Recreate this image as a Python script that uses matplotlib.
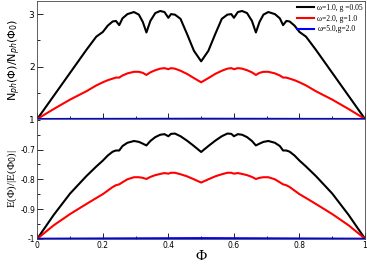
import numpy as np
import matplotlib
matplotlib.use("Agg")
import matplotlib.pyplot as plt
from matplotlib.ticker import MultipleLocator

# flux values (same grid for the black and red curves)
phi = [0.0, 0.05, 0.1, 0.15, 0.18, 0.2, 0.215, 0.23, 0.24, 0.25, 0.26, 0.275, 0.295,
       0.31, 0.322, 0.333, 0.345, 0.36, 0.375, 0.388, 0.4, 0.408, 0.42, 0.437, 0.457,
       0.478, 0.5, 0.522, 0.543, 0.563, 0.58, 0.592, 0.6, 0.612, 0.625, 0.64, 0.655,
       0.667, 0.678, 0.69, 0.705, 0.725, 0.74, 0.75, 0.76, 0.77, 0.785, 0.8, 0.82,
       0.85, 0.9, 0.95, 1.0]

# photon number ratio
nph_w1 = [1.00, 1.44, 1.88, 2.32, 2.57, 2.66, 2.78, 2.86, 2.87, 2.79, 2.92, 3.00, 3.04,
          2.99, 2.85, 2.65, 2.87, 3.02, 3.06, 3.04, 2.93, 3.00, 2.99, 2.91, 2.62,
          2.30, 2.10, 2.30, 2.62, 2.91, 2.99, 3.00, 2.93, 3.04, 3.06, 3.02, 2.87,
          2.65, 2.85, 2.99, 3.04, 3.00, 2.92, 2.79, 2.87, 2.86, 2.78, 2.66, 2.57,
          2.32, 1.88, 1.44, 1.00]
nph_w2 = [1.00, 1.19, 1.37, 1.53, 1.64, 1.70, 1.74, 1.77, 1.79, 1.79, 1.83, 1.87, 1.90,
          1.90, 1.88, 1.84, 1.89, 1.93, 1.96, 1.97, 1.95, 1.97, 1.96, 1.92, 1.86,
          1.78, 1.70, 1.78, 1.86, 1.92, 1.96, 1.97, 1.95, 1.97, 1.96, 1.93, 1.89,
          1.84, 1.88, 1.90, 1.90, 1.87, 1.83, 1.79, 1.79, 1.77, 1.74, 1.70, 1.64,
          1.53, 1.37, 1.19, 1.00]

# ground state energy ratio
e_w1 = [-1.000, -0.920, -0.848, -0.789, -0.757, -0.737, -0.720, -0.707, -0.703, -0.703,
        -0.688, -0.677, -0.671, -0.674, -0.680, -0.686, -0.671, -0.658, -0.650, -0.648,
        -0.655, -0.647, -0.646, -0.655, -0.670, -0.688, -0.708, -0.688, -0.670, -0.655,
        -0.646, -0.647, -0.655, -0.648, -0.650, -0.658, -0.671, -0.686, -0.680, -0.674,
        -0.671, -0.677, -0.688, -0.703, -0.703, -0.707, -0.720, -0.737, -0.757, -0.789,
        -0.848, -0.920, -1.000]
e_w2 = [-1.000, -0.955, -0.917, -0.883, -0.863, -0.850, -0.838, -0.826, -0.820, -0.817,
        -0.810, -0.800, -0.793, -0.793, -0.795, -0.799, -0.792, -0.786, -0.782, -0.779,
        -0.781, -0.778, -0.778, -0.783, -0.790, -0.800, -0.811, -0.800, -0.790, -0.783,
        -0.778, -0.778, -0.781, -0.779, -0.782, -0.786, -0.792, -0.799, -0.795, -0.793,
        -0.793, -0.800, -0.810, -0.817, -0.820, -0.826, -0.838, -0.850, -0.863, -0.883,
        -0.917, -0.955, -1.000]

# omega=5 curves are nearly flat
phi_w5 = [0.0, 0.5, 1.0]
nph_w5 = [1.0, 1.005, 1.0]
e_w5 = [-1.0, -0.998, -1.0]

labels = ["\u03c9=1.0, g =0.05", "\u03c9=2.0, g=1.0", "\u03c9=5.0,g=2.0"]
colors = ["black", "red", "blue"]

serif = ["Liberation Serif", "DejaVu Serif"]

fig = plt.figure(figsize=(3.67, 2.66), dpi=100)
ax1 = fig.add_axes([0.1016, 0.5526, 0.893, 0.4436])
ax2 = fig.add_axes([0.1016, 0.1026, 0.893, 0.45])

ax1.plot(phi, nph_w1, color=colors[0], lw=1.5, label=labels[0])
ax1.plot(phi, nph_w2, color=colors[1], lw=1.5, label=labels[1])
ax1.plot(phi_w5, nph_w5, color=colors[2], lw=1.5, label=labels[2])

ax2.plot(phi, e_w1, color=colors[0], lw=1.5)
ax2.plot(phi, e_w2, color=colors[1], lw=1.5)
ax2.plot(phi_w5, e_w5, color=colors[2], lw=1.5)

for ax in (ax1, ax2):
    ax.set_xlim(0, 1)
    ax.xaxis.set_major_locator(MultipleLocator(0.2))
    ax.xaxis.set_minor_locator(MultipleLocator(0.1))
    ax.tick_params(which="both", direction="in", top=False, right=False, width=0.6)
    ax.tick_params(which="major", length=4)
    ax.tick_params(which="minor", length=2.5)
    for s in ax.spines.values():
        s.set_linewidth(0.6)
        s.set_color("#444444")

ax1.set_ylim(1, 3.25)
ax1.set_yticks([1, 2, 3])
ax1.yaxis.set_minor_locator(MultipleLocator(0.5))
ax1.tick_params(axis="x", labelbottom=False)
ax1.tick_params(axis="y", labelsize=6.5, pad=2)
ax1.set_ylabel(r"N$_{ph}$($\Phi$)/N$_{ph}$($\Phi_0$)", fontsize=8, labelpad=4)

ax2.set_ylim(-1, -0.597)
ax2.set_yticks([-1, -0.9, -0.8, -0.7])
ax2.set_yticklabels(["-1", "-0.9", "-0.8", "-0.7"])
ax2.yaxis.set_minor_locator(MultipleLocator(0.05))
ax2.set_xticks([0, 0.2, 0.4, 0.6, 0.8, 1.0])
ax2.set_xticklabels(["0", "0.2", "0.4", "0.6", "0.8", "1"])
ax2.tick_params(axis="both", labelsize=5.5, pad=1.5)
ax2.set_ylabel("E(\u03a6)/|E(\u03a6$_0$)|", fontsize=8, family=serif, labelpad=1)
ax2.set_xlabel("\u03a6", fontsize=11, family=serif, labelpad=0)

ax1.legend(loc="upper right", bbox_to_anchor=(1.01, 1.02), frameon=False,
           prop={"family": serif, "size": 5.5}, handlelength=2.2,
           handletextpad=0.5, labelspacing=0.35, borderpad=0.2)

fig.savefig("out.png", dpi=100)
